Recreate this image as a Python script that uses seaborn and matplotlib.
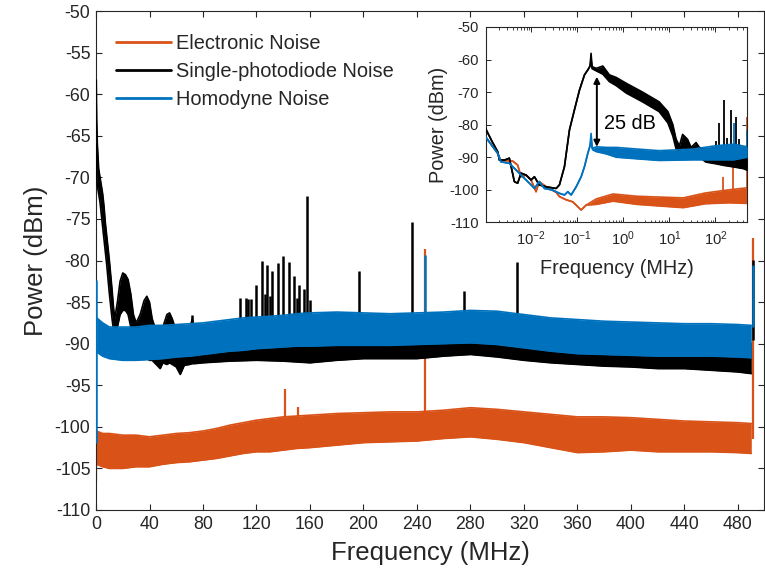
import numpy as np
import matplotlib
matplotlib.use("Agg")
import matplotlib.pyplot as plt
from matplotlib.ticker import LogLocator, NullFormatter
import seaborn as sns

# MATLAB default colours
ORANGE = "#D95319"
BLUE = "#0072BD"
BLACK = "#000000"
GREY = "#262626"

labels = ["Electronic Noise", "Single-photodiode Noise", "Homodyne Noise"]

# ---------------- main plot (linear frequency, MHz) ----------------
# electronic noise band (upper / lower envelope)
freq_e = [0.3, 5, 10, 20, 30, 40, 50, 60, 70, 80, 90, 100, 110, 120, 130, 140, 150, 160,
          180, 200, 220, 240, 260, 280, 300, 320, 340, 360, 380, 400, 420, 440, 460, 480, 490]
upper_e = [-100.5, -100.8, -100.8, -101, -101, -101.2, -101, -100.8, -100.7, -100.5, -100.2,
           -99.8, -99.5, -99.2, -99, -98.8, -98.7, -98.6, -98.4, -98.3, -98.2, -98.2, -98,
           -97.7, -97.9, -98.2, -98.5, -98.8, -98.8, -98.9, -99.1, -99.3, -99.4, -99.5, -99.6]
lower_e = [-104.5, -104.8, -105, -105, -104.8, -104.8, -104.5, -104.3, -104.2, -104, -103.8,
           -103.5, -103.2, -103, -103, -102.8, -102.6, -102.5, -102.2, -101.9, -101.8, -101.7,
           -101.4, -101.2, -101.5, -101.9, -102.5, -103.1, -103, -102.8, -103, -103, -103,
           -103.1, -103.2]
spike_e_f = [0.3, 141, 151, 246, 491]
spike_e_top = [-106.5, -95.5, -97.6, -78.6, -77.3]

# single-photodiode noise band
freq_s = [0.2, 0.5, 1, 2, 3, 4, 5, 6, 7, 8, 10, 12, 13, 14, 16, 18, 20, 22, 24, 26, 28, 30,
          33, 36, 38, 40, 42, 45, 48, 50, 53, 55, 57, 60, 63, 66, 70, 72, 74, 80, 90, 100,
          120, 140, 160, 180, 200, 220, 240, 260, 280, 300, 320, 340, 360, 380, 400, 420,
          440, 460, 480, 490]
upper_s = [-58.3, -63, -66, -69, -70, -71, -72, -73.5, -75.5, -77, -80, -83.5, -85.5, -87,
           -85, -82.5, -81.5, -81.7, -82.3, -84, -86.5, -87.5, -86.5, -84.8, -84.3, -85, -87,
           -88.5, -88.5, -88, -86.5, -86.3, -87, -88.5, -88.5, -88.5, -88.3, -87, -88.5,
           -88.5, -88.5, -89, -89, -89, -89, -89, -89, -89, -89, -89, -89, -89, -89.3, -89.5,
           -89.8, -90, -90, -90, -90, -90, -90, -90]
lower_s = [-66, -70, -71, -72, -73, -74.5, -76, -77.5, -79, -80.5, -84, -87, -88.3, -88.5,
           -88, -86.5, -86, -86, -86.5, -88, -89.5, -91, -91.5, -91.5, -91.8, -92, -92, -92.5,
           -93, -92.3, -92.5, -92.3, -92.5, -92.8, -93.7, -92.6, -92.5, -92.4, -92.4, -92.3,
           -92.2, -92.1, -92, -92.1, -92.3, -92, -91.8, -91.8, -91.8, -91.5, -91.3, -91.6,
           -92, -92.3, -92.5, -92.7, -92.8, -93, -93, -93.2, -93.4, -93.6]
spike_s_f = [71.5, 107.7, 111.9, 113.7, 115.9, 119.6, 123.9, 126, 127.6, 129.8, 131.8, 135.8,
             140, 144.3, 148, 150, 151.7, 155.5, 157.5, 160, 196.6, 236, 275, 314.6, 491]
spike_s_top = [-86.5, -84.5, -84.5, -84.6, -84.6, -83.0, -80.0, -84, -80.5, -84.3, -81.3,
               -80.3, -79.4, -80.2, -81.9, -84.5, -83.0, -83.4, -72.2, -84.7, -81.3, -75.4,
               -83.7, -80.2, -79.9]

# homodyne noise band
freq_h = [0.5, 5, 10, 20, 30, 40, 50, 60, 70, 80, 90, 100, 110, 120, 130, 140, 150, 160,
          180, 200, 220, 240, 260, 280, 300, 320, 340, 360, 380, 400, 420, 440, 460, 480, 490]
upper_h = [-86.9, -87.5, -88, -88, -88, -87.8, -87.8, -87.7, -87.6, -87.5, -87.3, -87.1,
           -86.9, -86.8, -86.7, -86.6, -86.4, -86.3, -86.2, -86.3, -86.4, -86.3, -86.2, -86.0,
           -86.1, -86.5, -86.9, -87.1, -87.3, -87.4, -87.5, -87.6, -87.6, -87.7, -87.8]
lower_h = [-91, -91.5, -91.8, -92, -92, -91.9, -91.8, -91.6, -91.5, -91.3, -91.1, -90.9,
           -90.8, -90.6, -90.5, -90.4, -90.3, -90.3, -90.2, -90.2, -90.2, -90.1, -90, -89.9,
           -90.1, -90.5, -90.9, -91.2, -91.3, -91.4, -91.5, -91.5, -91.5, -91.6, -91.7]
spike_h_f = [0.2, 246, 491]
spike_h_top = [-82.3, -79.3, -80.5]
spike_h_bottom = [-102, -88, -88]

# ---------------- inset (log frequency, MHz) ----------------
in_freq_e = [1.02e-3, 1.88e-3, 2.2e-3, 3.98e-3, 5.1e-3, 6.06e-3, 7.8e-3, 0.01, 0.0128, 0.015,
             0.0212, 0.035, 0.0412, 0.058, 0.08, 0.103, 0.122, 0.157, 0.26, 0.6, 2, 20, 60,
             200, 490]
in_upper_e = [-83.7, -88.8, -91, -91.2, -92.4, -96, -95.5, -97, -100.6, -97.5, -99.1, -100.8,
              -102.1, -103.1, -103.7, -105.2, -106.2, -104.7, -102.8, -101.3, -102, -102.5,
              -101, -100, -99.4]
in_lower_e = [-83.7, -88.8, -91, -91.2, -92.4, -96, -95.5, -97, -100.6, -97.5, -99.1, -100.8,
              -102.1, -103.1, -103.7, -105.2, -106.2, -104.7, -104.5, -103.5, -104.5, -105.5,
              -104.3, -104, -104.2]
in_spike_e_f = [143, 244, 488]
in_spike_e_top = [-96, -92.9, -77.6]

in_freq_s = [1.02e-3, 1.4e-3, 1.88e-3, 2.05e-3, 2.63e-3, 3.37e-3, 4.33e-3, 5.1e-3, 6.06e-3,
             7.8e-3, 0.01, 0.0118, 0.015, 0.0212, 0.035, 0.0412, 0.0529, 0.068, 0.087, 0.112,
             0.144, 0.17, 0.19, 0.2, 0.21, 0.26, 0.36, 0.5, 0.7, 1.16, 2.62, 6.0, 9.3, 11.9,
             14, 16.5, 19.4, 24.8, 29.6, 38, 44.8, 62, 100, 150, 250, 400, 490]
in_upper_s = [-81.1, -85, -88.3, -90.9, -90.9, -90.3, -97.5, -98, -94.9, -95.5, -97, -96,
              -98.5, -99.1, -99.6, -98.5, -92.9, -81.6, -75.5, -69.4, -64.7, -63.2, -62, -58.1,
              -62.2, -62.7, -62, -64.7, -65.5, -67.3, -70, -73, -76, -80, -84.5, -86.5, -83,
              -84.5, -87, -85.5, -87, -87.5, -88, -88, -89, -90, -90.5]
in_lower_s = [-81.1, -85, -88.3, -90.9, -90.9, -90.3, -97.5, -98, -94.9, -95.5, -97, -96,
              -98.5, -99.1, -99.6, -98.5, -92.9, -81.6, -75.5, -69.4, -64.7, -63.2, -62, -60,
              -62.8, -63.5, -64.5, -66.8, -68, -70.3, -73, -76, -79.5, -83.5, -87.5, -88.5, -87,
              -88, -89.5, -89.5, -90, -91.5, -92, -92.5, -93, -93.5, -94]
in_spike_s_f = [105, 120, 155, 180, 222, 285, 330]
in_spike_s_top = [-85, -79.6, -72.4, -84, -75.5, -77.6, -84.5]

in_freq_h = [1.02e-3, 1.88e-3, 2.2e-3, 3.37e-3, 4.7e-3, 6.6e-3, 9.2e-3, 0.0118, 0.015, 0.0195,
             0.0295, 0.0412, 0.053, 0.0626, 0.074, 0.095, 0.122, 0.144, 0.17, 0.19, 0.2, 0.21,
             0.22, 0.26, 0.43, 0.7, 2, 6, 33, 100, 250, 490]
in_upper_h = [-83.7, -88.8, -91.4, -91.9, -93.9, -96, -98, -99.6, -97.5, -99.6, -100.1,
              -101.1, -101.6, -100.6, -101.6, -99.1, -96, -92.9, -88.8, -86.5, -82.7, -86.5,
              -87.3, -86.8, -87, -87, -87.5, -88, -87.5, -86.5, -86, -86.8]
in_lower_h = [-83.7, -88.8, -91.4, -91.9, -93.9, -96, -98, -99.6, -97.5, -99.6, -100.1,
              -101.1, -101.6, -100.6, -101.6, -99.1, -96, -92.9, -88.8, -86.5, -84.5, -87.3,
              -87.8, -88.3, -89, -90, -90.5, -91, -90.8, -90.8, -90.8, -90]
in_spike_h_f = [250, 488]
in_spike_h_top = [-79.6, -81.6]

# 25 dB arrow in the inset
arrow_f = 0.267
arrow_top = -65.3
arrow_bottom = -86.8


def draw_band(ax, f, upper, lower, color, label=None, lw=1.0, zorder=2):
    ax.fill_between(f, lower, upper, color=color, lw=0, zorder=zorder)
    sns.lineplot(x=f, y=upper, ax=ax, color=color, lw=lw, label=label, zorder=zorder,
                 sort=False, estimator=None)
    sns.lineplot(x=f, y=lower, ax=ax, color=color, lw=lw, zorder=zorder,
                 sort=False, estimator=None)


sns.set_theme(style="ticks")
plt.rcParams["font.family"] = ["Liberation Sans", "DejaVu Sans"]
plt.rcParams["mathtext.fontset"] = "custom"
plt.rcParams["mathtext.rm"] = "Liberation Sans"
plt.rcParams["axes.unicode_minus"] = False

fig = plt.figure(figsize=(7.65, 5.74), dpi=100)
ax = fig.add_axes([0.1255, 0.1115, 0.8732, 0.8693])

# main plot
draw_band(ax, freq_e, upper_e, lower_e, ORANGE, labels[0], lw=1.2, zorder=2)
ax.vlines(spike_e_f, -101.5, spike_e_top, color=ORANGE, lw=1.6, zorder=2)
draw_band(ax, freq_s, upper_s, lower_s, BLACK, labels[1], lw=1.2, zorder=3)
ax.vlines(spike_s_f, -89.5, spike_s_top, color=BLACK, lw=1.8, zorder=3)
draw_band(ax, freq_h, upper_h, lower_h, BLUE, labels[2], lw=1.2, zorder=4)
ax.vlines(spike_h_f, spike_h_bottom, spike_h_top, color=BLUE, lw=1.8, zorder=4)

ax.set_xlim(0, 499.5)
ax.set_ylim(-110, -50)
ax.set_xticks(np.arange(0, 481, 40))
ax.set_yticks(np.arange(-110, -49, 5))
ax.set_xlabel("Frequency (MHz)", fontsize=18.5, color=GREY, labelpad=6)
ax.set_ylabel("Power (dBm)", fontsize=18.5, color=GREY, labelpad=5)
ax.tick_params(direction="in", top=True, right=True, length=4.3, width=0.8,
               colors=GREY, labelsize=12.8, pad=4)
for sp in ax.spines.values():
    sp.set_color(GREY)
    sp.set_linewidth(0.8)

leg = ax.legend(loc="upper left", bbox_to_anchor=(0.03, 0.954), frameon=False,
                fontsize=14.4, handlelength=2.75, handletextpad=0.25, labelspacing=0.45,
                borderpad=0, borderaxespad=0)
for line in leg.get_lines():
    line.set_linewidth(2)

# inset
ax2 = fig.add_axes([0.6353, 0.6127, 0.3416, 0.3403], zorder=5)
ax2.set_facecolor("white")
draw_band(ax2, in_freq_e, in_upper_e, in_lower_e, ORANGE, lw=1.2, zorder=2)
ax2.vlines(in_spike_e_f, -101.5, in_spike_e_top, color=ORANGE, lw=1.3, zorder=2)
draw_band(ax2, in_freq_s, in_upper_s, in_lower_s, BLACK, lw=1.2, zorder=3)
ax2.vlines(in_spike_s_f, -90, in_spike_s_top, color=BLACK, lw=1.3, zorder=3)
draw_band(ax2, in_freq_h, in_upper_h, in_lower_h, BLUE, lw=1.2, zorder=4)
ax2.vlines(in_spike_h_f, -88, in_spike_h_top, color=BLUE, lw=1.3, zorder=4)

ax2.annotate("", xy=(arrow_f, arrow_top), xytext=(arrow_f, arrow_bottom),
             arrowprops=dict(arrowstyle="<|-|>", color="black", lw=1.4,
                             mutation_scale=9, shrinkA=0, shrinkB=0), zorder=6)
ax2.text(0.39, -79.5, "25 dB", fontsize=14.3, color="black", ha="left", va="center",
         zorder=6)

ax2.set_xscale("log")
ax2.set_xlim(1.05e-3, 492)
ax2.set_ylim(-110, -50)
ax2.set_yticks(np.arange(-110, -49, 10))
ax2.xaxis.set_major_locator(LogLocator(base=10, numticks=12))
ax2.xaxis.set_minor_locator(LogLocator(base=10, subs=np.arange(2, 10), numticks=12))
ax2.xaxis.set_minor_formatter(NullFormatter())
ax2.set_xlabel("Frequency (MHz)", fontsize=14.3, color=GREY, labelpad=8)
ax2.set_ylabel("Power (dBm)", fontsize=14.3, color=GREY, labelpad=1)
ax2.tick_params(which="major", direction="in", top=True, right=True, length=3.5,
                width=0.7, colors=GREY, labelsize=10.6, pad=5)
ax2.tick_params(which="minor", direction="in", top=True, right=True, length=1.8,
                width=0.6, colors=GREY)
for sp in ax2.spines.values():
    sp.set_color(GREY)
    sp.set_linewidth(0.8)

fig.savefig("out.png", dpi=100)
